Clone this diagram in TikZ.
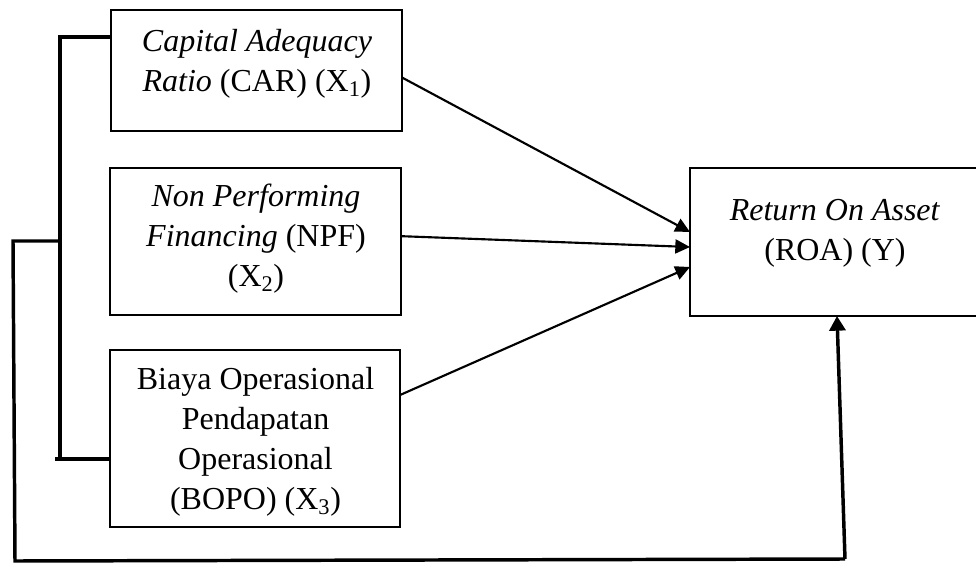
\documentclass[tikz,border=0pt]{standalone}
\usepackage{fontspec}
\setmainfont{Liberation Serif}
\usetikzlibrary{arrows.meta,calc}
\begin{document}
\begin{tikzpicture}[x=0.75pt,y=-0.75pt,
  box/.style={draw,line width=1.6pt,inner sep=0pt,outer sep=0pt,rectangle},
  lbl/.style={align=center,font=\fontsize{24}{30}\selectfont,inner sep=0pt,anchor=north},
  arr/.style={line width=1.6pt,-{Triangle[length=11pt,width=10.5pt]}},
  brk/.style={line width=2.6pt},
  fb/.style={line width=2.6pt,-{Triangle[length=11pt,width=12pt]}}]
\useasboundingbox (0,0) rectangle (976,564);
\clip (0,0) rectangle (976,564);
% boxes
\node[box,minimum width=218.25pt,minimum height=90.75pt] (b1) at (256.5,70.5) {};
\node[box,minimum width=218.25pt,minimum height=110.25pt] (b2) at (255.5,241.5) {};
\node[box,minimum width=217.5pt,minimum height=132.75pt] (b3) at (255,438.5) {};
\node[box,minimum width=217.5pt,minimum height=111pt] (by) at (835,242) {};
% texts
\node[lbl] (t1) at (257,29.5) {\textit{Capital Adequacy}\\\textit{Ratio} (CAR) (X\textsubscript{1})};
\node[lbl] (t2) at (256,184) {\textit{Non Performing}\\\textit{Financing} (NPF)\\(X\textsubscript{2})};
\node[lbl] (t3) at (255.5,367) {Biaya Operasional\\Pendapatan\\Operasional\\(BOPO) (X\textsubscript{3})};
\node[lbl] (ty) at (835,199) {\textit{Return On Asset}\\(ROA) (Y)};
% arrows to Y
\draw[arr] ([yshift=-5.25pt]b1.east) -- ([yshift=7.5pt]by.west);
\draw[arr] ([yshift=4pt]b2.east) -- ([yshift=-3.75pt]by.west);
\draw[arr] ([yshift=32.6pt]b3.east) -- ([yshift=-18.75pt]by.west);
% bracket
\coordinate (ti) at (60,37);
\coordinate (bi) at (60,459);
\coordinate (bo) at (55,459);
\coordinate (jo) at (60,241);
\coordinate (ol) at (13,241);
\coordinate (bl) at (15,561);
\coordinate (br) at (845,559);
\draw[brk] (b1.west |- ti) -- (ti) -- (bi);
\draw[brk] (bo) -- (b3.west |- bo);
\draw[brk] (jo) -- (ol) -- (bl) -- (br);
\draw[fb] (br) -- ([xshift=1.5pt]by.south);
\end{tikzpicture}
\end{document}
